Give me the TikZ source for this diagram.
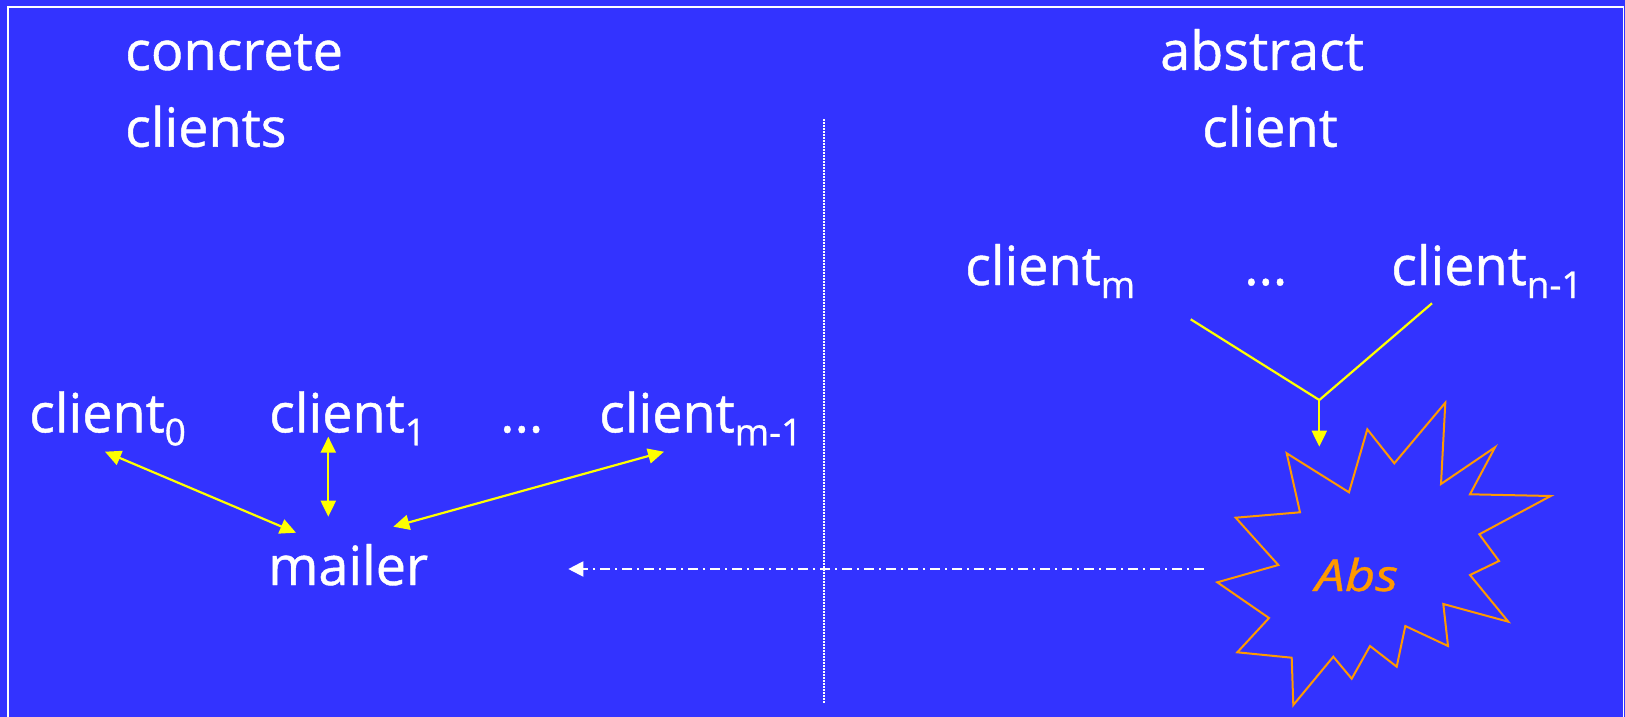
\documentclass[tikz,border=0pt]{standalone}
\usepackage{fontspec}
\setmainfont{Open Sans}[FakeBold=0.8,AutoFakeBold=0.8]
\newfontfamily\labelfont{Open Sans}[FakeBold=0.8]
\usetikzlibrary{arrows.meta}

\definecolor{slide}{RGB}{51,51,255}
\definecolor{burst}{RGB}{255,153,0}
\definecolor{link}{RGB}{255,255,0}

% lowered index after a client name
\newcommand\lowidx[1]{\raisebox{-13pt}{\fontsize{37}{37}\selectfont #1}}

\begin{document}
\begin{tikzpicture}[x=1pt,y=-1pt,
  word/.style={anchor=base west,inner sep=0pt,text=white,font=\fontsize{54}{60}\selectfont\bfseries},
  twoway/.style={draw=link,line width=2.2pt,{Triangle[length=16pt,width=15pt]}-{Triangle[length=16pt,width=15pt]}},
  feed/.style={draw=link,line width=2.2pt},
  oneway/.style={draw=link,line width=2.2pt,-{Triangle[length=16pt,width=15pt]}},
  divider/.style={draw=white,line width=1.5pt,dash pattern=on 1.5pt off 1.5pt},
  derive/.style={draw=white,line width=2pt,dash pattern=on 10pt off 5pt on 2pt off 5pt,-{Triangle[length=15pt,width=15pt]}},
  starline/.style={draw=burst,line width=2pt,line join=miter}
]
\useasboundingbox (0,0) rectangle (1625,717);
\fill[slide] (0,0) rectangle (1625,717);
\draw[white,line width=1.5pt] (8,717) -- (8,7) -- (1623.5,7) -- (1623.5,717);

% headings
\node[word] (hconc)  at (125,70)    {concrete};
\node[word] (hconc2) at (125,146.7) {clients};
\node[word] (habs)   at (1160,70)   {abstract};
\node[word] (habs2)  at (1202,146.7){client};

% concrete side
\node[word] (c0)    at (29,432.3)  {client\lowidx{0}};
\node[word] (c1)    at (269,432.3) {client\lowidx{1}};
\node[word] (cdots) at (500,432.3) {...};
\node[word] (cm1)   at (599,432.3) {client\lowidx{m-1}};
\node[word] (mailer) at (268,585)  {mailer};

% abstract side
\node[word] (cm)    at (965,285)   {client\lowidx{m}};
\node[word] (adots) at (1244,285)  {...};
\node[word] (cn1)   at (1391,285)  {client\lowidx{n-1}};

% connector end points
\coordinate (c0end)  at (105,451.7);
\coordinate (c0mail) at (296,532.7);
\coordinate (c1end)  at (328.3,436.7);
\coordinate (c1mail) at (328.3,516.7);
\coordinate (cm1end) at (664,451.7);
\coordinate (cm1mail) at (393.3,526.7);
\coordinate (cmfoot)  at (1190.7,319.3);
\coordinate (cn1foot) at (1432,303.3);
\coordinate (join)    at (1319.3,400);
\coordinate (burstin) at (1319.3,446.7);
\coordinate (absout)  at (1204,569);
\coordinate (mailin)  at (568.3,569);

% divider between the two halves
\draw[divider] (824,119) -- (824,704);

% mailer links
\draw[twoway] (c0end) -- (c0mail);
\draw[twoway] (c1end) -- (c1mail);
\draw[twoway] (cm1end) -- (cm1mail);

% abstract client merge
\draw[feed] (cmfoot) -- (join) -- (cn1foot);
\draw[oneway] (join) -- (burstin);

% the abstraction burst
\draw[starline] (1286.7,453.3) -- (1349,492.3) -- (1367.3,429.3) -- (1394.3,463.3)
  -- (1445.3,402.7) -- (1441,484) -- (1495,447.3) -- (1470,494.3)
  -- (1550.7,496) -- (1479.3,534.3) -- (1499,561) -- (1470,575)
  -- (1508.3,621.7) -- (1443.3,604) -- (1448,646) -- (1405.3,626)
  -- (1396.7,666.7) -- (1370,646) -- (1351.7,678.7) -- (1333.3,656.7)
  -- (1293.3,705) -- (1291.7,657.7) -- (1237.3,652.3) -- (1269,618)
  -- (1217.3,582.3) -- (1278.3,565) -- (1235.7,517.7) -- (1300,512.3) -- cycle;
\node[anchor=base west,inner sep=0pt,text=burst,font=\fontsize{44}{48}\selectfont\itshape\bfseries] (abs) at (1315,591) {\scalebox{1.2}[1]{Abs}};

% abstraction back to the mailer
\draw[derive] (absout) -- (mailin);
\end{tikzpicture}
\end{document}
